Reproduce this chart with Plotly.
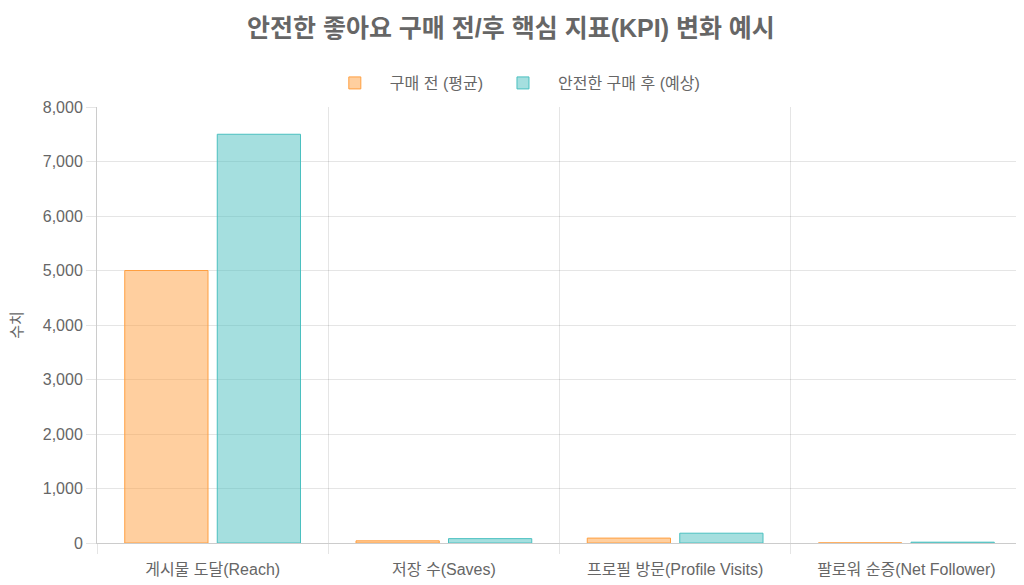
import plotly.graph_objects as go

# KPI categories and values
categories = ["게시물 도달(Reach)", "저장 수(Saves)", "프로필 방문(Profile Visits)", "팔로워 순증(Net Follower)"]
before_avg = [5000, 40, 90, 2]
after_expected = [7500, 80, 180, 15]
y_ticks = [0, 1000, 2000, 3000, 4000, 5000, 6000, 7000, 8000]

FONT = "Liberation Sans, Noto Sans CJK KR, sans-serif"
GRID = "rgba(0,0,0,0.1)"

fig = go.Figure()
fig.add_trace(go.Bar(
    x=categories, y=before_avg, name="구매 전 (평균)",
    marker=dict(color="rgba(255,159,64,0.5)", line=dict(color="rgb(255,159,64)", width=1)),
))
fig.add_trace(go.Bar(
    x=categories, y=after_expected, name="안전한 구매 후 (예상)",
    marker=dict(color="rgba(75,192,192,0.5)", line=dict(color="rgb(75,192,192)", width=1)),
))

# page body has an 8px margin, so the figure is sized 1016x577
fig.update_layout(
    width=1016, height=577,
    paper_bgcolor="white", plot_bgcolor="white",
    font=dict(family=FONT, color="#666", size=15),
    title=dict(text="<b>안전한 좋아요 구매 전/후 핵심 지표(KPI) 변화 예시</b>",
               x=0.495, xanchor="center", y=0.965, yanchor="middle",
               font=dict(size=25, color="#666", family=FONT)),
    barmode="group", bargap=0.2, bargroupgap=0.1,
    legend=dict(orientation="h", x=0.449, xanchor="center", y=1.055, yanchor="middle",
                font=dict(size=16, color="#666"), itemwidth=60),
    margin=dict(l=89, r=2, t=99, b=42, autoexpand=False),
    showlegend=True,
)

fig.update_xaxes(
    showgrid=True, gridcolor=GRID, tickson="boundaries",
    ticks="outside", ticklen=10, tickcolor=GRID,
    showline=True, linecolor="rgba(0,0,0,0.2)",
    tickfont=dict(size=16, color="#666"), automargin=False,
    ticklabelstandoff=12,
)
fig.update_yaxes(
    range=[0, 8000], tickvals=y_ticks, tickformat=",",
    showgrid=True, gridcolor=GRID, zeroline=False,
    ticks="outside", ticklen=10, tickcolor=GRID,
    showline=True, linecolor="rgba(0,0,0,0.2)",
    tickfont=dict(size=16, color="#666"), automargin=False,
    title=dict(text="수치", font=dict(size=15, color="#666"), standoff=16),
)

fig.write_html("out.html")
